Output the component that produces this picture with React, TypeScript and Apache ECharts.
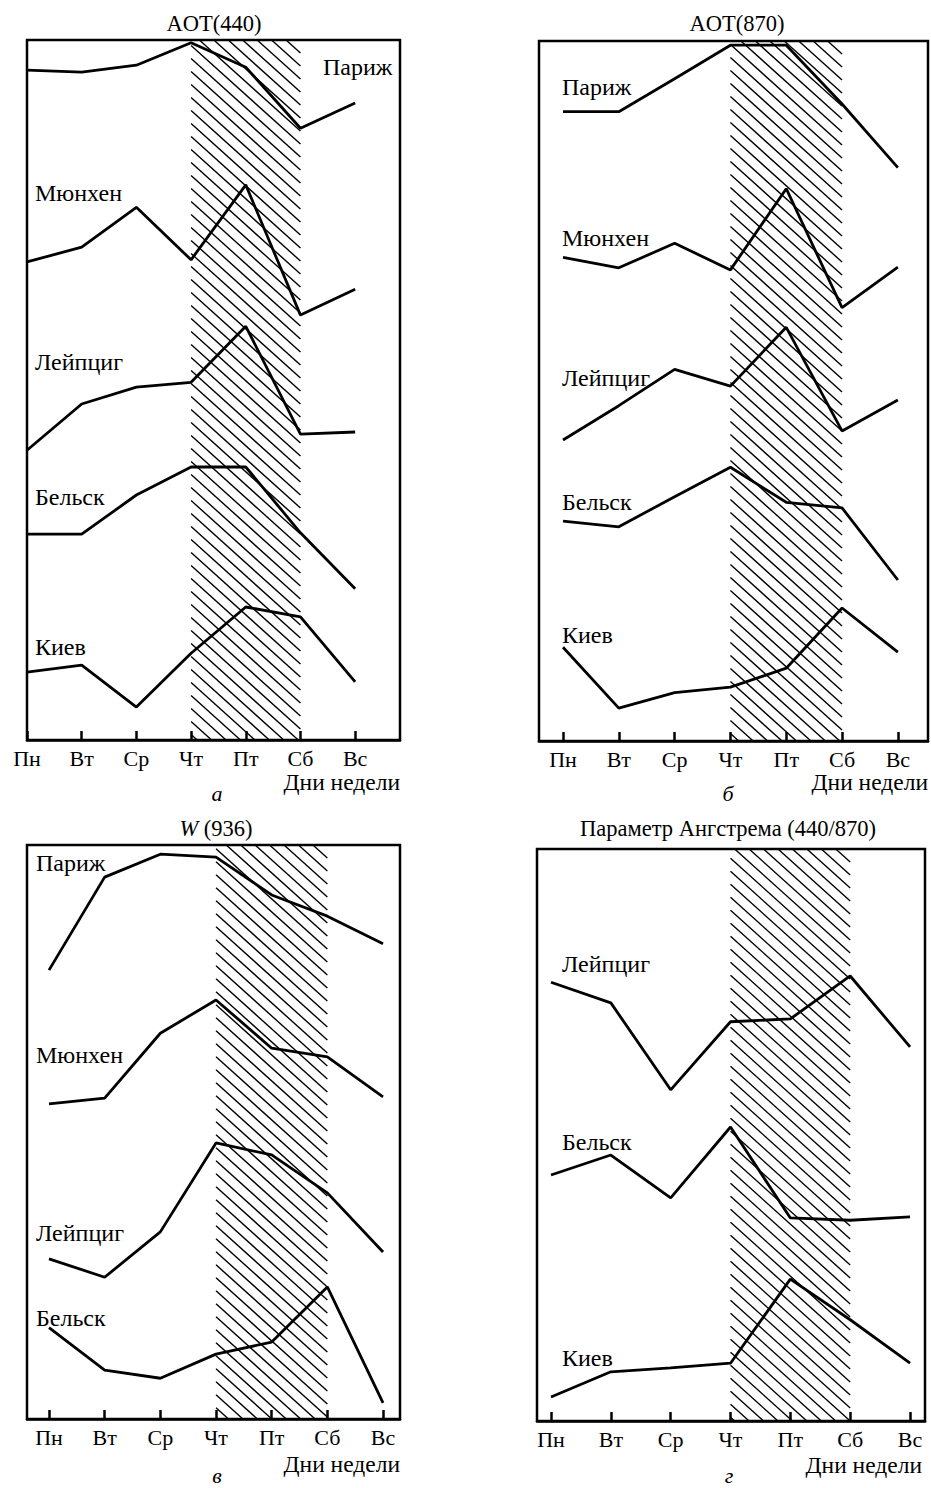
import React, { useEffect, useRef } from "react";
import * as echarts from "echarts";

// ---- data (relative units, 0 = bottom of frame, 100 = top) ----
const days = ["Пн", "Вт", "Ср", "Чт", "Пт", "Сб", "Вс"];
const shadedDays = [3, 5]; // Чт … Сб

// a) AOT(440)
const aot440Paris = [95.7, 95.4, 96.4, 99.6, 96.1, 87.4, 91.0];
const aot440Munich = [68.3, 70.4, 76.1, 68.6, 79.3, 60.7, 64.4];
const aot440Leipzig = [41.4, 48.0, 50.4, 51.1, 59.1, 43.7, 44.0];
const aot440Belsk = [29.4, 29.4, 35.0, 39.0, 39.0, 29.6, 21.6];
const aot440Kyiv = [9.7, 10.7, 4.7, 12.4, 19.0, 17.6, 8.3];

// б) AOT(870)
const aot870Paris = [89.9, 89.9, 94.6, 99.4, 99.4, 91.0, 81.9];
const aot870Munich = [69.1, 67.6, 71.1, 67.3, 78.9, 61.9, 67.7];
const aot870Leipzig = [43.0, 47.9, 53.1, 50.7, 59.1, 44.3, 48.7];
const aot870Belsk = [31.4, 30.6, 34.9, 39.1, 34.1, 33.3, 23.0];
const aot870Kyiv = [13.4, 4.7, 6.9, 7.7, 10.4, 19.0, 12.7];

// в) W(936)
const w936Paris = [78.2, 94.4, 98.4, 97.9, 91.3, 87.6, 82.8];
const w936Munich = [54.9, 55.9, 67.2, 73.0, 64.6, 63.1, 56.1];
const w936Leipzig = [27.9, 24.7, 32.6, 48.1, 46.0, 39.4, 29.1];
const w936Belsk = [15.9, 8.5, 7.1, 11.3, 13.4, 23.0, 2.8];

// г) Angstrom parameter (440/870)
const angLeipzig = [76.7, 73.1, 57.9, 69.8, 70.3, 77.8, 65.4];
const angBelsk = [43.0, 46.5, 39.0, 51.4, 35.5, 35.1, 35.7];
const angKyiv = [4.2, 8.6, 9.3, 10.1, 24.8, 17.7, 10.1];

const panelSeries = [
  [aot440Paris, aot440Munich, aot440Leipzig, aot440Belsk, aot440Kyiv],
  [aot870Paris, aot870Munich, aot870Leipzig, aot870Belsk, aot870Kyiv],
  [w936Paris, w936Munich, w936Leipzig, w936Belsk],
  [angLeipzig, angBelsk, angKyiv],
];

// ---- layout ----
const FONT = "'Liberation Serif', 'Times New Roman', serif";
const FS = 22;
const FS_LABEL = 24;
const FS_NAME = 23.5;
const FS_TITLE = 22.5;

const grids = [
  { left: 27, top: 40, width: 373, height: 700, xMin: 0, xMax: 6.82 },
  { left: 539, top: 41, width: 389, height: 700, xMin: -0.43, xMax: 6.54 },
  { left: 27, top: 845, width: 373, height: 574, xMin: -0.395, xMax: 6.305 },
  { left: 537, top: 849, width: 388, height: 572, xMin: -0.234, xMax: 6.25 },
];

const titles = [
  { text: "AOT(440)", x: 214, y: 23 },
  { text: "AOT(870)", x: 737, y: 23 },
  { text: "{i|W} (936)", x: 216, y: 828 },
  { text: "Параметр Ангстрема (440/870)", x: 728, y: 828 },
];

const letters = [
  { text: "а", x: 217, y: 793 },
  { text: "б", x: 728, y: 793 },
  { text: "в", x: 217, y: 1475 },
  { text: "г", x: 729, y: 1475 },
];

const axisNames = [
  { x: 400, y: 782 },
  { x: 928, y: 782 },
  { x: 400, y: 1464 },
  { x: 922, y: 1465 },
];

const cityLabels = [
  { text: "Париж", x: 323, y: 67 },
  { text: "Мюнхен", x: 35, y: 193 },
  { text: "Лейпциг", x: 35, y: 362 },
  { text: "Бельск", x: 35, y: 497 },
  { text: "Киев", x: 35, y: 647 },
  { text: "Париж", x: 562, y: 87 },
  { text: "Мюнхен", x: 562, y: 238 },
  { text: "Лейпциг", x: 562, y: 378 },
  { text: "Бельск", x: 562, y: 502 },
  { text: "Киев", x: 562, y: 635 },
  { text: "Париж", x: 36, y: 863 },
  { text: "Мюнхен", x: 36, y: 1055 },
  { text: "Лейпциг", x: 36, y: 1233 },
  { text: "Бельск", x: 36, y: 1318 },
  { text: "Лейпциг", x: 562, y: 964 },
  { text: "Бельск", x: 562, y: 1142 },
  { text: "Киев", x: 562, y: 1358 },
];

const HATCH_STEP = 13; // vertical spacing of hatch lines
const HATCH_SLOPE = 0.9;

function hatchRenderItem(params: any, api: any) {
  const cs = params.coordSys;
  const xa = api.coord([api.value(0), 0])[0];
  const xb = api.coord([api.value(1), 0])[0];
  const x0 = Math.min(xa, xb);
  const x1 = Math.max(xa, xb);
  const y0 = cs.y;
  const y1 = cs.y + cs.height;
  const w = x1 - x0;
  const h = y1 - y0;
  const children: any[] = [];
  const k = HATCH_SLOPE;
  for (let c = -w * k; c <= h; c += HATCH_STEP) {
    const xs = x0 + Math.max(0, -c / k);
    const xe = x0 + Math.min(w, (h - c) / k);
    if (xe <= xs) continue;
    const ys = y0 + c + k * (xs - x0);
    const ye = y0 + c + k * (xe - x0);
    children.push({
      type: "line",
      shape: { x1: xs, y1: ys, x2: xe, y2: ye },
      style: { stroke: "#000", lineWidth: 1.4 },
      silent: true,
    });
  }
  return { type: "group", children };
}

export default function App() {
  const ref = useRef<HTMLDivElement>(null);

  useEffect(() => {
    if (!ref.current) return;
    const chart = echarts.init(ref.current, undefined, { renderer: "svg" });

    const grid = grids.map((g) => ({
      left: g.left,
      top: g.top,
      width: g.width,
      height: g.height,
      show: true,
      borderColor: "#000",
      borderWidth: 2.5,
      backgroundColor: "transparent",
    }));

    const xAxis = grids.map((g, i) => ({
      type: "value",
      gridIndex: i,
      min: g.xMin,
      max: g.xMax,
      splitLine: { show: false },
      axisLine: { show: true, lineStyle: { color: "#000", width: 2.5 } },
      axisTick: {
        show: true,
        inside: true,
        length: 9,
        customValues: [0, 1, 2, 3, 4, 5, 6],
        lineStyle: { color: "#000", width: 2.5 },
      },
      axisLabel: {
        show: true,
        customValues: [0, 1, 2, 3, 4, 5, 6],
        formatter: (v: number) => days[Math.round(v)] ?? "",
        color: "#000",
        fontFamily: FONT,
        fontSize: FS,
        margin: 7,
      },
    }));

    const yAxis = grids.map((_, i) => ({
      type: "value",
      gridIndex: i,
      min: 0,
      max: 100,
      show: false,
      splitLine: { show: false },
    }));

    const series: any[] = [];
    grids.forEach((_, i) => {
      series.push({
        type: "custom",
        xAxisIndex: i,
        yAxisIndex: i,
        data: [[shadedDays[0], shadedDays[1]]],
        renderItem: hatchRenderItem,
        silent: true,
        z: 1,
      });
      panelSeries[i].forEach((vals) => {
        series.push({
          type: "line",
          xAxisIndex: i,
          yAxisIndex: i,
          data: vals.map((v, d) => [d, v]),
          showSymbol: false,
          symbol: "none",
          lineStyle: { color: "#000", width: 2.8 },
          silent: true,
          z: 3,
        });
      });
    });

    const graphic: any[] = [];
    titles.forEach((t) =>
      graphic.push({
        type: "text",
        x: t.x,
        y: t.y,
        style: {
          text: t.text,
          fill: "#000",
          font: `${FS_TITLE}px ${FONT}`,
          textAlign: "center",
          textVerticalAlign: "middle",
          rich: { i: { fontStyle: "italic", fontFamily: FONT, fontSize: FS_TITLE } },
        },
      })
    );
    letters.forEach((t) =>
      graphic.push({
        type: "text",
        x: t.x,
        y: t.y,
        style: {
          text: t.text,
          fill: "#000",
          font: `italic ${FS}px ${FONT}`,
          textAlign: "center",
          textVerticalAlign: "middle",
        },
      })
    );
    axisNames.forEach((t) =>
      graphic.push({
        type: "text",
        x: t.x,
        y: t.y,
        style: {
          text: "Дни недели",
          fill: "#000",
          font: `${FS_NAME}px ${FONT}`,
          textAlign: "right",
          textVerticalAlign: "middle",
        },
      })
    );
    cityLabels.forEach((t) =>
      graphic.push({
        type: "text",
        x: t.x,
        y: t.y,
        z: 10,
        style: {
          text: t.text,
          fill: "#000",
          font: `${FS_LABEL}px ${FONT}`,
          textAlign: "left",
          textVerticalAlign: "middle",
        },
      })
    );

    chart.setOption({
      animation: false,
      backgroundColor: "#fff",
      grid,
      xAxis,
      yAxis,
      series,
      graphic,
    });

    return () => chart.dispose();
  }, []);

  return (
    <div
      ref={ref}
      style={{ position: "absolute", left: 0, top: 0, width: 931, height: 1488 }}
    />
  );
}
